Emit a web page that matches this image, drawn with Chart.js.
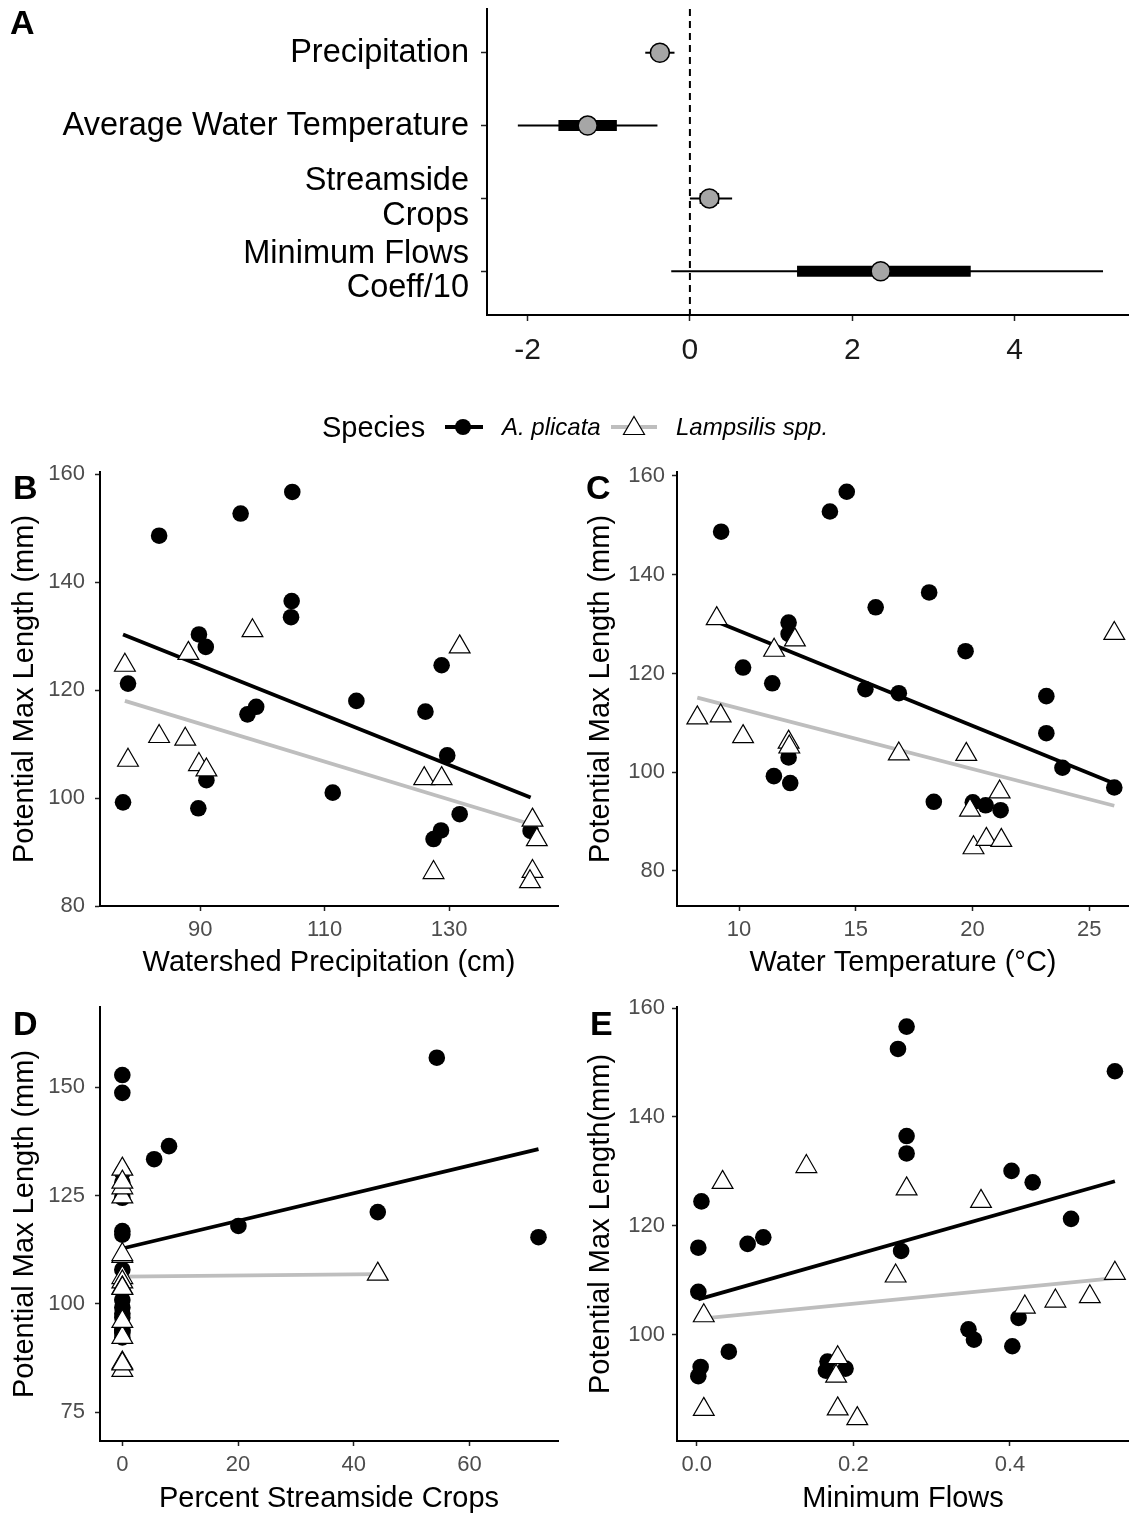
<!DOCTYPE html>
<html>
<head>
<meta charset="utf-8">
<title>Potential max length vs. watershed factors</title>
<script src="https://cdn.jsdelivr.net/npm/chart.js@4.4.1/dist/chart.umd.min.js"></script>
<style>
  html, body { margin: 0; padding: 0; background: #fff; }
  #page { position: relative; width: 1129px; height: 1515px; overflow: hidden;
          font-family: "Liberation Sans", Arial, sans-serif; color: #000; }
  #page canvas { position: absolute; }
  .tag { position: absolute; font-weight: bold; font-size: 34px; line-height: 1; }
  .lg { position: absolute; line-height: 1; white-space: nowrap; }
  .lg-line { position: absolute; height: 4px; }
  .lg-dot { position: absolute; width: 16px; height: 16px; border-radius: 50%; background: #000; }
</style>
</head>
<body>
<div id="page">
  <canvas id="panel-a" width="1129" height="400" style="left:0;top:0"></canvas>
  <canvas id="panel-b" width="570" height="545" style="left:0;top:440px"></canvas>
  <canvas id="panel-c" width="559" height="545" style="left:570px;top:440px"></canvas>
  <canvas id="panel-d" width="570" height="540" style="left:0;top:975px"></canvas>
  <canvas id="panel-e" width="559" height="540" style="left:570px;top:975px"></canvas>

  <div class="tag" style="left:10px;top:5px">A</div>
  <div class="tag" style="left:13px;top:470px">B</div>
  <div class="tag" style="left:586px;top:470px">C</div>
  <div class="tag" style="left:13px;top:1006px">D</div>
  <div class="tag" style="left:590px;top:1006px">E</div>

  <!-- shared legend -->
  <div class="lg" style="left:322px;top:413px;font-size:29px">Species</div>
  <div class="lg-line" style="left:445px;top:425px;width:38px;background:#000"></div>
  <div class="lg-dot" style="left:455px;top:419px"></div>
  <div class="lg" style="left:502px;top:415px;font-size:24px;font-style:italic">A. plicata</div>
  <div class="lg-line" style="left:611px;top:425px;width:46px;background:#bebebe"></div>
  <svg style="position:absolute;left:622px;top:415px" width="24" height="22">
    <polygon points="12,1.5 22.5,19.5 1.5,19.5" fill="#fff" stroke="#000" stroke-width="1.2"/>
  </svg>
  <div class="lg" style="left:676px;top:415px;font-size:24px;font-style:italic">Lampsilis spp.</div>
</div>

<script>
/* ── Panel A: standardized effects ───────────────────────────────── */
const effectLabels = [["Precipitation"], ["Average Water Temperature"], ["Streamside", "Crops"], ["Minimum Flows", "Coeff/10"]];
const effectEstimate = [-0.37, -1.26, 0.24, 2.35];
const effectOuterLow = [-0.55, -2.12, 0.00, -0.23];
const effectOuterHigh = [-0.19, -0.40, 0.52, 5.09];
const effectInnerLow = [-0.45, -1.62, 0.12, 1.32];
const effectInnerHigh = [-0.29, -0.90, 0.36, 3.46];
const effectTicks = [-2, 0, 2, 4];

/* ── Panel B: watershed precipitation (cm) ───────────────────────── */
const precipPlicataX = [83.4, 96.5, 104.8, 104.7, 104.6, 89.8, 90.9, 78.4, 97.6, 99.0, 115.1, 126.2, 128.8, 129.7, 77.6, 89.7, 91.0, 111.3, 131.7, 127.5, 128.7, 143.1];
const precipPlicataY = [148.6, 152.7, 156.7, 136.5, 133.5, 130.3, 128.0, 121.2, 115.5, 116.9, 118.0, 116.0, 124.6, 107.9, 99.2, 98.1, 103.3, 101.0, 97.0, 92.4, 94.0, 93.9];
const precipLampX = [77.9, 78.4, 83.4, 87.6, 88.1, 98.4, 89.8, 91.0, 131.7, 126.0, 128.8, 127.5, 143.4, 144.1, 143.4, 143.0];
const precipLampY = [124.6, 107.0, 111.4, 110.9, 126.8, 131.0, 106.2, 105.2, 128.0, 103.6, 103.6, 86.2, 95.9, 92.3, 86.4, 84.5];
const precipFitPlicataX = [77.6, 143.1];
const precipFitPlicataY = [130.3, 100.1];
const precipFitLampX = [77.9, 143.5];
const precipFitLampY = [118.0, 95.0];
const precipXTicks = [90, 110, 130];
const precipYTicks = [80, 100, 120, 140, 160];

/* ── Panel C: water temperature (°C) ─────────────────────────────── */
const tempPlicataX = [9.23, 13.89, 14.61, 18.14, 15.85, 12.12, 12.12, 10.17, 11.42, 15.41, 16.84, 19.70, 23.16, 23.16, 23.85, 26.07, 12.12, 11.49, 12.19, 18.34, 20.01, 20.56, 21.20];
const tempPlicataY = [148.7, 152.8, 156.8, 136.4, 133.4, 130.3, 128.0, 121.2, 118.0, 116.8, 116.0, 124.5, 115.4, 107.9, 100.9, 96.9, 103.0, 99.2, 97.8, 94.0, 93.9, 93.3, 92.3];
const tempLampX = [9.04, 8.21, 9.21, 10.17, 11.50, 12.39, 12.12, 12.15, 16.84, 19.73, 19.89, 21.16, 20.04, 20.59, 21.23, 26.07];
const tempLampY = [131.1, 111.0, 111.4, 107.2, 124.7, 126.8, 106.1, 105.1, 103.7, 103.6, 92.3, 96.0, 84.7, 86.4, 86.2, 128.1];
const tempFitPlicataX = [9.23, 26.07];
const tempFitPlicataY = [130.1, 97.7];
const tempFitLampX = [8.21, 26.07];
const tempFitLampY = [115.1, 93.2];
const tempXTicks = [10, 15, 20, 25];
const tempYTicks = [80, 100, 120, 140, 160];

/* ── Panel D: percent streamside crops ───────────────────────────── */
const cropsPlicataX = [0, 0, 0, 0, 0, 0, 0, 0, 0, 0, 0, 0, 0, 0, 0, 0, 0, 5.5, 8.07, 20.06, 44.15, 54.35, 71.93];
const cropsPlicataY = [152.8, 148.7, 130.3, 128.0, 124.5, 116.8, 116.0, 107.9, 103.0, 100.9, 99.2, 97.8, 96.9, 94.0, 93.9, 93.3, 92.3, 133.4, 136.4, 118.0, 121.2, 156.8, 115.4];
const cropsLampX = [0, 0, 0, 0, 0, 0, 0, 0, 0, 0, 0, 0, 0, 0, 0, 44.15];
const cropsLampY = [131.1, 111.0, 111.4, 124.7, 126.8, 106.1, 105.1, 103.7, 103.6, 92.3, 96.0, 84.7, 86.4, 86.2, 128.1, 106.9];
const cropsFitPlicataX = [0, 71.93];
const cropsFitPlicataY = [112.8, 135.7];
const cropsFitLampX = [0, 44.15];
const cropsFitLampY = [106.3, 106.9];
const cropsXTicks = [0, 20, 40, 60];
const cropsYTicks = [75, 100, 125, 150];

/* ── Panel E: minimum flows ──────────────────────────────────────── */
const flowPlicataX = [0.268, 0.257, 0.268, 0.268, 0.534, 0.402, 0.429, 0.478, 0.006, 0.002, 0.065, 0.085, 0.261, 0.002, 0.411, 0.347, 0.354, 0.403, 0.041, 0.005, 0.002, 0.167, 0.165, 0.190];
const flowPlicataY = [156.6, 152.5, 136.5, 133.3, 148.4, 130.1, 128.0, 121.3, 124.5, 116.0, 116.7, 117.9, 115.4, 107.9, 103.1, 101.0, 99.1, 97.9, 96.9, 94.1, 92.4, 95.1, 93.4, 93.8];
const flowLampX = [0.033, 0.140, 0.268, 0.363, 0.254, 0.534, 0.419, 0.458, 0.502, 0.009, 0.180, 0.178, 0.009, 0.180, 0.205];
const flowLampY = [128.0, 130.9, 126.8, 124.5, 110.8, 111.3, 105.1, 106.2, 107.0, 103.5, 95.8, 92.4, 86.3, 86.4, 84.6];
const flowFitPlicataX = [0.002, 0.534];
const flowFitPlicataY = [106.5, 128.2];
const flowFitLampX = [0.009, 0.534];
const flowFitLampY = [103.0, 110.4];
const flowXTicks = [0, 0.2, 0.4];
const flowYTicks = [100, 120, 140, 160];

(function () {
  "use strict";

  Chart.defaults.font.family = '"Liberation Sans", Arial, sans-serif';
  Chart.defaults.animation = false;
  Chart.defaults.events = [];
  Chart.defaults.plugins.legend.display = false;
  Chart.defaults.plugins.tooltip.enabled = false;
  Chart.defaults.layout.autoPadding = false;

  /* ── Helpers ───────────────────────────────────────────────────── */
  function $(id) { return document.getElementById(id); }

  function pairs(xs, ys) {
    return xs.map(function (x, i) { return { x: x, y: ys[i] }; });
  }

  // pin an axis box to a fixed size and drop the label overhang padding,
  // so the plot area lands where the layout padding says
  function pinBox(prop, size) {
    return function (scale) {
      scale[prop] = size;
      scale.paddingTop = 0;
      scale.paddingBottom = 0;
      scale.paddingLeft = 0;
      scale.paddingRight = 0;
    };
  }
  function fixTicks(values) {
    return function (scale) {
      scale.ticks = values.map(function (v) { return { value: v }; });
    };
  }

  function axisLook() {
    return {
      grid: { drawOnChartArea: false, drawTicks: true, tickLength: 5, tickWidth: 1.5, tickColor: "#222" },
      border: { display: true, color: "#000", width: 2 },
    };
  }

  /* ── Panel A ───────────────────────────────────────────────────── */
  function renderEffects() {
    var datasets = [{
      type: "line", showLine: true,
      data: [{ x: 0, y: 0.4 }, { x: 0, y: 4.6 }],
      borderColor: "#000", borderWidth: 2, borderDash: [7, 5], pointRadius: 0, order: 9,
    }];

    effectEstimate.forEach(function (est, i) {
      var row = i + 1;
      datasets.push({
        type: "line", showLine: true,
        data: [{ x: effectOuterLow[i], y: row }, { x: effectOuterHigh[i], y: row }],
        borderColor: "#000", borderWidth: 2, pointRadius: 0, order: 5,
      });
      datasets.push({
        type: "line", showLine: true,
        data: [{ x: effectInnerLow[i], y: row }, { x: effectInnerHigh[i], y: row }],
        borderColor: "#000", borderWidth: 11, borderCapStyle: "butt", pointRadius: 0, order: 4,
      });
    });

    datasets.push({
      type: "scatter",
      data: effectEstimate.map(function (e, i) { return { x: e, y: i + 1 }; }),
      pointRadius: 9.5, backgroundColor: "#a6a6a6", borderColor: "#000", borderWidth: 1.5, order: 1,
    });

    var xLook = axisLook();
    var yLook = axisLook();
    yLook.grid.tickLength = 6;
    xLook.grid.tickLength = 6;

    new Chart($("panel-a"), {
      type: "scatter",
      data: { datasets: datasets },
      options: {
        responsive: false,
        devicePixelRatio: 1,
        layout: { padding: { top: 9, right: 0, left: 0, bottom: 0 } },
        scales: {
          x: Object.assign(xLook, {
            type: "linear", min: -2.5, max: 5.41,
            afterBuildTicks: fixTicks(effectTicks),
            afterFit: pinBox("height", 85),
            ticks: { color: "#1a1a1a", font: { size: 30 }, padding: 12, maxRotation: 0 },
          }),
          y: Object.assign(yLook, {
            type: "linear", min: 0.4, max: 4.6, reverse: true,
            afterBuildTicks: fixTicks([1, 2, 3, 4]),
            afterFit: pinBox("width", 487),
            ticks: {
              color: "#000", font: { size: 32.5, lineHeight: 1.06 }, padding: 12,
              callback: function (v) { return effectLabels[v - 1]; },
            },
          }),
        },
      },
    });
  }

  /* ── Panels B–E ────────────────────────────────────────────────── */
  function renderScatter(id, p) {
    var xLook = axisLook();
    var yLook = axisLook();

    new Chart($(id), {
      type: "scatter",
      data: {
        datasets: [
          {
            label: "Lampsilis spp.",
            data: pairs(p.lampX, p.lampY),
            pointStyle: "triangle", pointRadius: 12,
            backgroundColor: "#fff", borderColor: "#000", borderWidth: 1.2, order: 1, clip: false,
          },
          {
            label: "A. plicata",
            data: pairs(p.plicX, p.plicY),
            pointStyle: "circle", pointRadius: 8.3,
            backgroundColor: "#000", borderColor: "#000", borderWidth: 0, order: 2, clip: false,
          },
          {
            type: "line", showLine: true,
            data: pairs(p.fitPlicX, p.fitPlicY),
            borderColor: "#000", borderWidth: 3.8, pointRadius: 0, order: 3,
          },
          {
            type: "line", showLine: true,
            data: pairs(p.fitLampX, p.fitLampY),
            borderColor: "#bebebe", borderWidth: 3.8, pointRadius: 0, order: 4,
          },
        ],
      },
      options: {
        responsive: false,
        devicePixelRatio: 1,
        layout: { padding: { top: p.padTop, right: p.padRight, left: 0, bottom: 0 } },
        scales: {
          x: Object.assign(xLook, {
            type: "linear", min: p.xMin, max: p.xMax,
            afterBuildTicks: fixTicks(p.xTicks),
            afterFit: pinBox("height", p.xAxisH),
            ticks: {
              color: "#4d4d4d", font: { size: 22 }, padding: 6, maxRotation: 0,
              callback: p.xFmt || function (v) { return String(v); },
            },
            title: {
              display: true, text: p.xTitle, color: "#000",
              font: { size: 29, lineHeight: 1 }, padding: { top: 0, bottom: p.xTitlePad },
            },
          }),
          y: Object.assign(yLook, {
            type: "linear", min: p.yMin, max: p.yMax,
            afterBuildTicks: fixTicks(p.yTicks),
            afterFit: pinBox("width", p.yAxisW),
            ticks: {
              color: "#4d4d4d", font: { size: 22 }, padding: p.yTickPad,
              callback: function (v) { return String(v); },
            },
            title: {
              display: true, text: p.yTitle, color: "#000",
              font: { size: 29, lineHeight: 1 }, padding: { top: p.yTitlePad, bottom: 0 },
            },
          }),
        },
      },
    });
  }

  renderEffects();

  renderScatter("panel-b", {
    plicX: precipPlicataX, plicY: precipPlicataY, lampX: precipLampX, lampY: precipLampY,
    fitPlicX: precipFitPlicataX, fitPlicY: precipFitPlicataY, fitLampX: precipFitLampX, fitLampY: precipFitLampY,
    xMin: 73.9, xMax: 147.5, yMin: 80, yMax: 160.4,
    xTicks: precipXTicks, yTicks: precipYTicks,
    xTitle: "Watershed Precipitation (cm)", yTitle: "Potential Max Length (mm)",
    padTop: 32, padRight: 12, xAxisH: 79, yAxisW: 100, xTitlePad: 7.5, yTitlePad: 10.5, yTickPad: 10,
  });

  renderScatter("panel-c", {
    plicX: tempPlicataX, plicY: tempPlicataY, lampX: tempLampX, lampY: tempLampY,
    fitPlicX: tempFitPlicataX, fitPlicY: tempFitPlicataY, fitLampX: tempFitLampX, fitLampY: tempFitLampY,
    xMin: 7.34, xMax: 26.7, yMin: 72.9, yMax: 160.8,
    xTicks: tempXTicks, yTicks: tempYTicks,
    xTitle: "Water Temperature (\u00B0C)", yTitle: "Potential Max Length (mm)",
    padTop: 32, padRight: 0, xAxisH: 79, yAxisW: 107, xTitlePad: 7.5, yTitlePad: 16.5, yTickPad: 7,
  });

  renderScatter("panel-d", {
    plicX: cropsPlicataX, plicY: cropsPlicataY, lampX: cropsLampX, lampY: cropsLampY,
    fitPlicX: cropsFitPlicataX, fitPlicY: cropsFitPlicataY, fitLampX: cropsFitLampX, fitLampY: cropsFitLampY,
    xMin: -3.86, xMax: 75.3, yMin: 68.4, yMax: 168.5,
    xTicks: cropsXTicks, yTicks: cropsYTicks,
    xTitle: "Percent Streamside Crops", yTitle: "Potential Max Length (mm)",
    padTop: 32, padRight: 12, xAxisH: 74, yAxisW: 100, xTitlePad: 1.5, yTitlePad: 10.5, yTickPad: 10,
  });

  renderScatter("panel-e", {
    plicX: flowPlicataX, plicY: flowPlicataY, lampX: flowLampX, lampY: flowLampY,
    fitPlicX: flowFitPlicataX, fitPlicY: flowFitPlicataY, fitLampX: flowFitLampX, fitLampY: flowFitLampY,
    xMin: -0.0252, xMax: 0.552, yMin: 80.5, yMax: 160.2,
    xTicks: flowXTicks, yTicks: flowYTicks,
    xFmt: function (v) { return v.toFixed(1); },
    xTitle: "Minimum Flows", yTitle: "Potential Max Length(mm)",
    padTop: 32, padRight: 0, xAxisH: 74, yAxisW: 107, xTitlePad: 1.5, yTitlePad: 16.5, yTickPad: 7,
  });
})();
</script>
</body>
</html>
